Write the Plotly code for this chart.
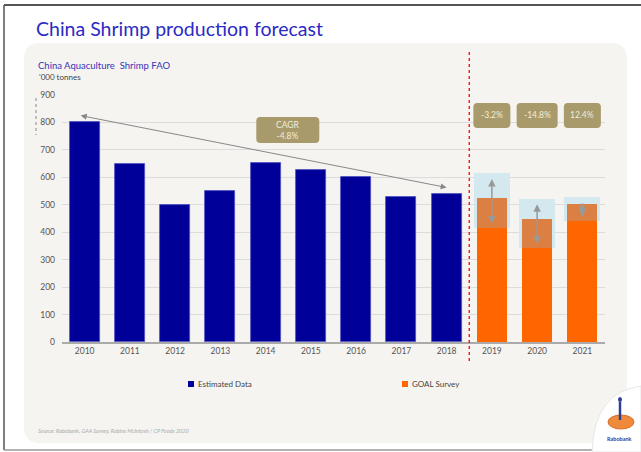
import plotly.graph_objects as go

# ---- data -------------------------------------------------------------
years = ["2010", "2011", "2012", "2013", "2014", "2015",
         "2016", "2017", "2018", "2019", "2020", "2021"]
estimated = [800, 650, 500, 552, 652, 627, 601, 527, 541]      # 2010-2018
survey = [524, 447, 502]                                        # 2019-2021
survey_low = [417, 344, 441]
survey_high = [614, 522, 527]
survey_change = ["-3.2%", "-14.8%", "12.4%"]
cagr_label = "CAGR<br>-4.8%"
y_ticks = [0, 100, 200, 300, 400, 500, 600, 700, 800, 900]

# ---- geometry helpers (pixel <-> paper) --------------------------------
W, H = 641, 452
ML, MR, MT, MB = 62, 36, 95, 110
PW, PH = W - ML - MR, H - MT - MB
YMAX = 900


def px(xp):
    return (xp - ML) / PW


def py(yp):
    return (H - MB - yp) / PH


def data_px(i, v):
    return ML + (i + 0.5) * PW / len(years), H - MB - v * PH / YMAX


def rounded_rect(x0, y0, x1, y1, r):
    """Rounded rectangle path in paper coords from pixel corners."""
    pts = [
        ("M", x0 + r, y0), ("L", x1 - r, y0), ("Q", x1, y0, x1, y0 + r),
        ("L", x1, y1 - r), ("Q", x1, y1, x1 - r, y1), ("L", x0 + r, y1),
        ("Q", x0, y1, x0, y1 - r), ("L", x0, y0 + r), ("Q", x0, y0, x0 + r, y0),
    ]
    out = []
    for p in pts:
        cmd, coords = p[0], p[1:]
        c = []
        for k in range(0, len(coords), 2):
            c.append(f"{px(coords[k]):.5f},{py(coords[k + 1]):.5f}")
        out.append(cmd + " ".join(c))
    return " ".join(out) + " Z"


BLUE = "#000099"
ORANGE = "#FF6600"
MUTED = "#DB8042"
LIGHTBLUE = "#D4E8EF"
TAN = "#A89A6B"
BADGE_TEXT = "#F3EDDC"
FONT = "Lato"

n_est = len(estimated)
x_est = list(range(n_est))
x_srv = list(range(n_est, len(years)))

fig = go.Figure()

# estimated production bars
fig.add_bar(x=x_est, y=estimated, width=0.66, name="Estimated Data",
            marker=dict(color=BLUE, line=dict(color="#4d4dc0", width=0.8)),
            showlegend=False)

# survey range boxes (low .. high)
fig.add_bar(x=x_srv, y=[h - l for h, l in zip(survey_high, survey_low)],
            base=survey_low, width=0.8, name="Survey range",
            marker=dict(color=LIGHTBLUE, line=dict(width=0)), showlegend=False)

# survey bars: solid part up to the low estimate, muted part up to the value
fig.add_bar(x=x_srv, y=survey_low, width=0.66, name="GOAL Survey",
            marker=dict(color=ORANGE, line=dict(width=0)), showlegend=False)
fig.add_bar(x=x_srv, y=[s - l for s, l in zip(survey, survey_low)],
            base=survey_low, width=0.66, name="GOAL Survey (range)",
            marker=dict(color=MUTED, line=dict(width=0)), showlegend=False)

shapes = []
annotations = []


def label(xp, yp, text, size, color, anchor="center", italic=False, bold=False):
    if italic:
        text = f"<i>{text}</i>"
    if bold:
        text = f"<b>{text}</b>"
    annotations.append(dict(xref="paper", yref="paper", x=px(xp), y=py(yp),
                            xanchor=anchor, yanchor="middle", showarrow=False,
                            text=text, font=dict(family=FONT, size=size, color=color)))


# outer frame and rounded panel
shapes.append(dict(type="path", xref="paper", yref="paper", layer="below",
                   path=rounded_rect(24, 43, 627, 443, 16),
                   fillcolor="#F5F4F0", line=dict(width=0)))
shapes.append(dict(type="line", xref="paper", yref="paper",
                   x0=px(4), x1=px(641), y0=py(5), y1=py(5),
                   line=dict(color="#555555", width=2)))
shapes.append(dict(type="line", xref="paper", yref="paper",
                   x0=px(4), x1=px(4), y0=py(5), y1=py(450),
                   line=dict(color="#555555", width=1.5)))
shapes.append(dict(type="line", xref="paper", yref="paper",
                   x0=px(4), x1=px(641), y0=py(450), y1=py(450),
                   line=dict(color="#999999", width=1.5)))

# small dotted mark beside the value axis
shapes.append(dict(type="line", xref="paper", yref="paper",
                   x0=px(36), x1=px(36), y0=py(98), y1=py(135),
                   line=dict(color="#888888", width=1, dash="dot")))

# forecast divider
shapes.append(dict(type="line", xref="x", yref="paper",
                   x0=n_est - 0.5, x1=n_est - 0.5, y0=py(52), y1=py(362),
                   line=dict(color="#FF0000", width=1.3, dash="dot")))

# change badges above survey bars
for i, lab in zip(x_srv, survey_change):
    cx, _ = data_px(i, 0)
    w = 41 if len(lab) > 5 else 37
    shapes.append(dict(type="path", xref="paper", yref="paper",
                       path=rounded_rect(cx - w / 2, 103, cx + w / 2, 128, 4),
                       fillcolor=TAN, line=dict(width=0)))
    label(cx, 115.5, lab, 8.5, BADGE_TEXT)

# CAGR badge
cx = ML + 4.99 * PW / len(years)
shapes.append(dict(type="path", xref="paper", yref="paper",
                   path=rounded_rect(cx - 31.5, 117, cx + 31.5, 143, 4),
                   fillcolor=TAN, line=dict(width=0)))
label(cx, 130, cagr_label, 8.5, BADGE_TEXT)

# CAGR trend arrow from 2010 to 2018
annotations.append(dict(x=n_est - 1, y=estimated[-1] + 22, xref="x", yref="y",
                        ax=-0.12, ay=estimated[0] + 26, axref="x", ayref="y",
                        text="", showarrow=True, arrowhead=2, arrowsize=1.2,
                        arrowwidth=1, arrowcolor="#888888", arrowside="end+start"))

# range arrows on survey bars
for i, lo, hi in zip(x_srv, survey_low, survey_high):
    annotations.append(dict(x=i, y=lo, xref="x", yref="y",
                            ax=i, ay=hi, axref="x", ayref="y",
                            text="", showarrow=True, arrowhead=2, arrowsize=1,
                            arrowwidth=1.5, arrowcolor="#999999",
                            arrowside="end+start", standoff=4, startstandoff=4))

# titles and notes
label(34, 29, "China Shrimp production forecast", 19.5, "#2B2BC4", anchor="left")
label(36, 65, "China Aquaculture  Shrimp FAO", 9.5, "#3535B8", anchor="left")
label(37, 77, "'000 tonnes", 8, "#444444", anchor="left")
label(36, 431, "Source: Rabobank, GAA Survey, Robins McIntosh / CP Foods 2020",
      5.5, "#AAAAAA", anchor="left", italic=True)

# legend
for lx, col, lab in [(191, BLUE, "Estimated Data"), (405, ORANGE, "GOAL Survey")]:
    shapes.append(dict(type="rect", xref="paper", yref="paper",
                       x0=px(lx - 3), x1=px(lx + 3), y0=py(381), y1=py(387),
                       fillcolor=col, line=dict(width=0)))
    label(lx + 4.5, 384, lab, 8, "#444444", anchor="left")

# logo corner
shapes.append(dict(type="path", xref="paper", yref="paper",
                   path=(f"M{px(641):.5f},{py(386):.5f} "
                         f"Q{px(594):.5f},{py(392):.5f} {px(592):.5f},{py(452):.5f} "
                         f"L{px(641):.5f},{py(452):.5f} Z"),
                   fillcolor="#FFFFFF", line=dict(color="#E6E6E6", width=1)))
shapes.append(dict(type="circle", xref="paper", yref="paper",
                   x0=px(608), x1=px(634), y0=py(415), y1=py(429),
                   fillcolor="#EE8A3A", line=dict(color="#D8702A", width=1)))
shapes.append(dict(type="line", xref="paper", yref="paper",
                   x0=px(620), x1=px(620), y0=py(402), y1=py(420),
                   line=dict(color="#2B3F9A", width=2.5)))
shapes.append(dict(type="circle", xref="paper", yref="paper",
                   x0=px(618), x1=px(622), y0=py(397), y1=py(402),
                   fillcolor="#2B3F9A", line=dict(width=0)))
label(619, 439, "Rabobank", 5.5, "#3040A0", bold=True)

fig.update_layout(
    width=W, height=H,
    margin=dict(l=ML, r=MR, t=MT, b=MB),
    paper_bgcolor="#FFFFFF", plot_bgcolor="rgba(0,0,0,0)",
    barmode="overlay", bargap=0,
    shapes=shapes, annotations=annotations,
    font=dict(family=FONT),
    showlegend=False,
)
fig.update_xaxes(range=[-0.5, len(years) - 0.5], tickmode="array",
                 tickvals=list(range(len(years))), ticktext=years,
                 tickfont=dict(size=8.5, color="#555555"),
                 showgrid=False, zeroline=False,
                 showline=True, linecolor="#AAAAAA", linewidth=1.5,
                 ticks="", fixedrange=True)
fig.update_yaxes(range=[0, YMAX], tickvals=y_ticks,
                 tickfont=dict(size=8.5, color="#555555"),
                 showgrid=True, gridcolor="#DCDCDC", gridwidth=1,
                 zeroline=False, showline=False, ticks="",
                 ticklabelstandoff=6, fixedrange=True)

fig.write_html("out.html")
